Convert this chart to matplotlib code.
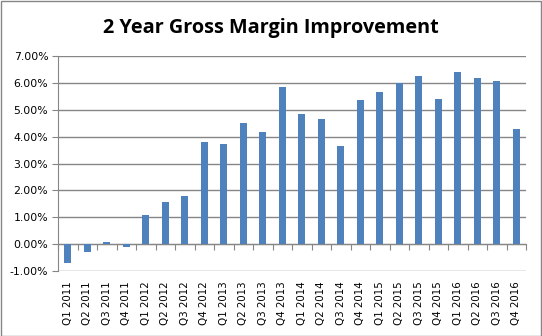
import matplotlib
matplotlib.use("Agg")
import matplotlib.pyplot as plt
from matplotlib.ticker import FuncFormatter, MultipleLocator
from matplotlib.patches import Rectangle
import numpy as np

categories = ["Q1 2011", "Q2 2011", "Q3 2011", "Q4 2011",
              "Q1 2012", "Q2 2012", "Q3 2012", "Q4 2012",
              "Q1 2013", "Q2 2013", "Q3 2013", "Q4 2013",
              "Q1 2014", "Q2 2014", "Q3 2014", "Q4 2014",
              "Q1 2015", "Q2 2015", "Q3 2015", "Q4 2015",
              "Q1 2016", "Q2 2016", "Q3 2016", "Q4 2016"]
values = [-0.69, -0.29, 0.09, -0.10,
          1.09, 1.56, 1.80, 3.80,
          3.72, 4.50, 4.17, 5.83,
          4.84, 4.65, 3.65, 5.36,
          5.66, 5.98, 6.25, 5.40,
          6.40, 6.18, 6.07, 4.28]
title = "2 Year Gross Margin Improvement"
ymin, ymax = -1.0, 7.0

W, H = 542, 336
fig = plt.figure(figsize=(W / 100, H / 100), dpi=100)
ax = fig.add_axes([58 / W, 1 - 271 / H, (526 - 58) / W, (271 - 56) / H])

grey = "#868686"
x = np.arange(len(categories))
ax.bar(x, values, width=0.37, color="#4F81BD", zorder=3)

ax.set_xlim(-0.5, len(categories) - 0.5)
ax.set_ylim(ymin, ymax)
ax.yaxis.set_major_locator(MultipleLocator(1.0))
ax.yaxis.set_major_formatter(FuncFormatter(lambda v, p: f"{v:.2f}%"))
ax.grid(axis="y", color=grey, linewidth=1.0, zorder=0)
ax.set_axisbelow(True)

for s in ["top", "right", "bottom"]:
    ax.spines[s].set_visible(False)
ax.spines["left"].set_color(grey)
ax.tick_params(axis="y", length=4, color=grey, labelsize=7.8, pad=3,
               labelcolor="#000000")
ax.set_xticks(x)
ax.set_xticklabels(categories, rotation=90, fontsize=7.4)
ax.tick_params(axis="x", length=0, pad=7.5)

# category axis crossing at zero
loc = (0 - ymin) / (ymax - ymin)
sec = ax.secondary_xaxis(loc)
sec.spines["bottom"].set_color(grey)
sec.set_xticks(np.arange(len(categories) + 1) - 0.5)
sec.set_xticklabels([])
sec.tick_params(axis="x", length=4, color=grey, direction="out")

fig.text(271 / W, 1 - 27.5 / H, title, ha="center", va="center",
         fontsize=14.3, fontweight="bold", family="Open Sans")

fig.patches.append(Rectangle((0.5 / W, 0.5 / H), 1 - 1.5 / W, 1 - 1.5 / H,
                             transform=fig.transFigure, fill=False,
                             edgecolor=grey, linewidth=1.0))

fig.savefig("out.png", dpi=100)
